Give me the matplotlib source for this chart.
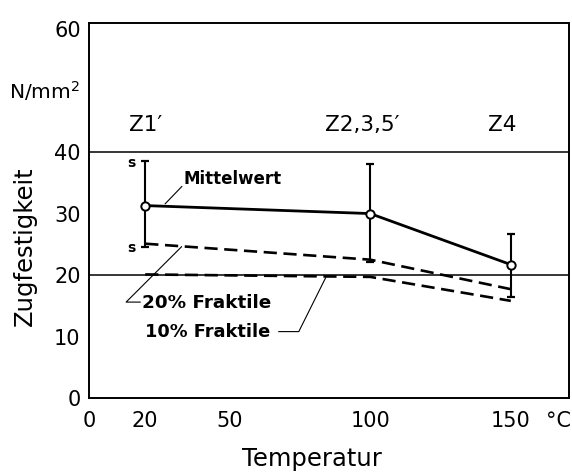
import matplotlib.pyplot as plt
import numpy as np

# Temperatur in °C
temps = [20, 100, 150]
# Zugfestigkeit N/mm2
mittelwert = [31.3, 30.0, 21.7]
s_upper = [38.5, 38.0, 26.7]
s_lower = [24.6, 22.1, 16.4]
fraktile_20 = [25.1, 22.5, 17.7]
fraktile_10 = [20.1, 19.7, 15.8]
gruppen = ["Z1\u2032", "Z2,3,5\u2032", "Z4"]
gruppen_x = [20, 97, 147]

plt.rcParams['font.family'] = ['DejaVu Sans']
plt.rcParams['xtick.labelsize'] = 15
plt.rcParams['ytick.labelsize'] = 15

fig = plt.figure(figsize=(5.72, 4.75), dpi=100)
ax = fig.add_axes([0.1556, 0.1621, 0.8392, 0.7895])

ax.set_xlim(0, 170.7)
ax.set_ylim(0, 61)

# horizontale Linien bei 20 und 40
for yy in (20, 40):
    ax.axhline(yy, color='black', lw=1.1, zorder=1)

# Streubereich s
err_lo = np.array(mittelwert) - np.array(s_lower)
err_hi = np.array(s_upper) - np.array(mittelwert)
ax.errorbar(temps, mittelwert, yerr=[err_lo, err_hi], fmt='none',
            ecolor='black', elinewidth=1.5, capsize=3, capthick=1.6, zorder=3)

# Fraktilen
ax.plot(temps, fraktile_20, color='black', lw=1.9, ls=(0, (5, 2.5)), zorder=2)
ax.plot(temps, fraktile_10, color='black', lw=1.9, ls=(0, (5, 2.5)), zorder=2)

# Mittelwert
ax.plot(temps, mittelwert, color='black', lw=2.0, marker='o', ms=6,
        mfc='white', mec='black', mew=1.4, zorder=4)

# Gruppenbezeichnungen
for gx, g in zip(gruppen_x, gruppen):
    ax.text(gx, 44.4, g, ha='center', va='center', fontsize=15.5)

# s Beschriftung
ax.text(15, 38.3, "s", ha='center', va='center', fontsize=10, fontweight='bold')
ax.text(15, 24.4, "s", ha='center', va='center', fontsize=10, fontweight='bold')

# Mittelwert Beschriftung
ax.plot([27.1, 33.0], [31.6, 34.4], color='black', lw=0.8)
ax.text(33.6, 35.6, "Mittelwert", ha='left', va='center', fontsize=12,
        fontweight='bold')

# Fraktile Beschriftungen
ax.plot([32.9, 13.2, 18.2], [24.6, 15.6, 15.6], color='black', lw=0.8)
ax.text(18.8, 15.4, "20% Fraktile", ha='left', va='center', fontsize=13.2,
        fontweight='bold')
ax.plot([67.5, 74.6, 84.3], [10.8, 10.8, 19.7], color='black', lw=0.8)
ax.text(20.0, 10.8, "10% Fraktile", ha='left', va='center', fontsize=12.8,
        fontweight='bold')

# Achsen
ax.set_yticks([0, 10, 20, 30, 40, 50, 60])
ax.set_yticklabels(['0', '10', '20', '30', '40', '', '60'], fontsize=15)
ax.set_yticks([10, 30, 50], minor=True)
ax.set_xticks([0, 20, 50, 100, 150])
ax.set_xticklabels(['0', '20', '50', '100', '150'], fontsize=15)
ax.set_xticks([20, 50, 100, 150], minor=True)
ax.tick_params(axis='both', which='major', length=0)
ax.tick_params(axis='both', which='minor', direction='in', width=1.3)
ax.tick_params(axis='y', which='minor', length=7)
ax.tick_params(axis='x', which='minor', length=5)
ax.tick_params(axis='y', which='major', pad=6)
ax.tick_params(axis='x', which='major', pad=9)
ax.text(-0.02, 50 / 61, "N/mm$^2$", transform=ax.transAxes, ha='right',
        va='center', fontsize=14.5)
ax.text(1.005, -0.062, "\u00b0C", transform=ax.transAxes, ha='right',
        va='center', fontsize=15)
for sp in ax.spines.values():
    sp.set_linewidth(1.4)

fig.text(25 / 572, 1 - 246 / 475, "Zugfestigkeit", rotation=90,
         ha='center', va='center', fontsize=17.5)
fig.text(312 / 572, 1 - 459 / 475, "Temperatur", ha='center', va='center',
         fontsize=17.5)

fig.savefig("out.png", dpi=100)
